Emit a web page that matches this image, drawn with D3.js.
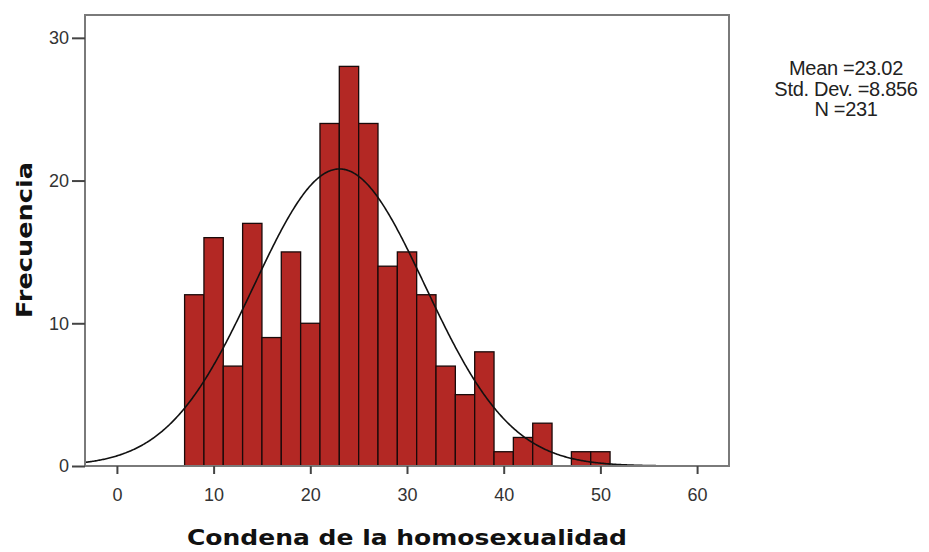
<!DOCTYPE html>
<html>
<head>
<meta charset="utf-8">
<script src="https://cdn.jsdelivr.net/npm/d3@7"></script>
<style>
  body { margin: 0; background: #fff; }
  text { font-family: "Liberation Sans", Arial, sans-serif; }
</style>
</head>
<body>
<svg id="chart"></svg>
<script>
// histogram bins (lower edge, width 2) and counts
var binStarts = [7, 9, 11, 13, 15, 17, 19, 21, 23, 25, 27, 29, 31, 33, 35, 37, 39, 41, 43, 45, 47, 49];
var counts    = [12, 16, 7, 17, 9, 15, 10, 24, 28, 24, 14, 15, 12, 7, 5, 8, 1, 2, 3, 0, 1, 1];
var binWidth = 2;
var xTicks = [0, 10, 20, 30, 40, 50, 60];
var yTicks = [0, 10, 20, 30];
var statLines = ["Mean =23.02", "Std. Dev. =8.856", "N =231"];
var mean = 23.02, sd = 8.856, n = 231;

var svgWidth = 929, svgHeight = 552;
var margin = { top: 15, right: 200, bottom: 86, left: 85 };
var chartWidth = svgWidth - margin.left - margin.right;
var chartHeight = svgHeight - margin.top - margin.bottom;

var svg = d3.select("#chart")
    .attr("width", svgWidth)
    .attr("height", svgHeight);

var chart = svg.append("g")
    .attr("transform", "translate(" + margin.left + "," + margin.top + ")");

var xScale = d3.scaleLinear()
    .domain([-3.3, 63.3])
    .range([0, chartWidth]);

var yScale = d3.scaleLinear()
    .domain([0, 31.6])
    .range([chartHeight, 0]);

var data = binStarts.map(function (d, i) { return { x0: d, x1: d + binWidth, count: counts[i] }; });

// bars
chart.selectAll(".bar")
    .data(data.filter(function (d) { return d.count > 0; }))
    .enter()
    .append("rect")
    .attr("class", "bar")
    .attr("x", function (d) { return xScale(d.x0); })
    .attr("y", function (d) { return yScale(d.count); })
    .attr("width", function (d) { return xScale(d.x1) - xScale(d.x0); })
    .attr("height", function (d) { return chartHeight - yScale(d.count); })
    .style("fill", "#b32824")
    .style("stroke", "#1a0a0a")
    .style("stroke-width", 1.3);

// normal curve from the stats shown
var curvePts = d3.range(-3.3, 63.31, 0.1).map(function (x) {
    var z = (x - mean) / sd;
    return [x, n * binWidth * Math.exp(-0.5 * z * z) / (sd * Math.sqrt(2 * Math.PI))];
});

chart.append("path")
    .datum(curvePts)
    .attr("d", d3.line()
        .x(function (d) { return xScale(d[0]); })
        .y(function (d) { return yScale(d[1]); }))
    .style("fill", "none")
    .style("stroke", "#111")
    .style("stroke-width", 1.6);

// frame
chart.append("rect")
    .attr("x", 0)
    .attr("y", 0)
    .attr("width", chartWidth)
    .attr("height", chartHeight)
    .style("fill", "none")
    .style("stroke", "#7a7a7a")
    .style("stroke-width", 2);

// x axis
var xAxis = chart.append("g")
    .attr("transform", "translate(0," + chartHeight + ")")
    .call(d3.axisBottom(xScale).tickValues(xTicks).tickSize(8).tickSizeOuter(0).tickPadding(14));
xAxis.select(".domain").remove();
xAxis.selectAll("line").style("stroke", "#444").style("stroke-width", 2);
xAxis.selectAll("text").style("font-size", "18px").style("fill", "#333");

// y axis
var yAxis = chart.append("g")
    .call(d3.axisLeft(yScale).tickValues(yTicks).tickSize(13).tickSizeOuter(0).tickPadding(3));
yAxis.select(".domain").remove();
yAxis.selectAll("line").style("stroke", "#444").style("stroke-width", 2);
yAxis.selectAll("text").style("font-size", "18px").style("fill", "#333");

// axis titles
svg.append("text")
    .attr("x", 407)
    .attr("y", 545)
    .attr("text-anchor", "middle")
    .attr("textLength", 440)
    .attr("lengthAdjust", "spacingAndGlyphs")
    .style("font-family", "'DejaVu Sans', Verdana, sans-serif")
    .style("font-size", "22px")
    .style("font-weight", "bold")
    .style("fill", "#111")
    .text("Condena de la homosexualidad");

svg.append("text")
    .attr("transform", "translate(32,240) rotate(-90)")
    .attr("text-anchor", "middle")
    .attr("textLength", 156)
    .attr("lengthAdjust", "spacingAndGlyphs")
    .style("font-family", "'DejaVu Sans', Verdana, sans-serif")
    .style("font-size", "22px")
    .style("font-weight", "bold")
    .style("fill", "#111")
    .text("Frecuencia");

// stats
svg.selectAll(".stat")
    .data(statLines)
    .enter()
    .append("text")
    .attr("class", "stat")
    .attr("x", 846)
    .attr("y", function (d, i) { return 75 + i * 20.5; })
    .attr("text-anchor", "middle")
    .style("font-size", "20px")
    .style("letter-spacing", "-0.3px")
    .style("fill", "#222")
    .text(function (d) { return d; });
</script>
</body>
</html>
